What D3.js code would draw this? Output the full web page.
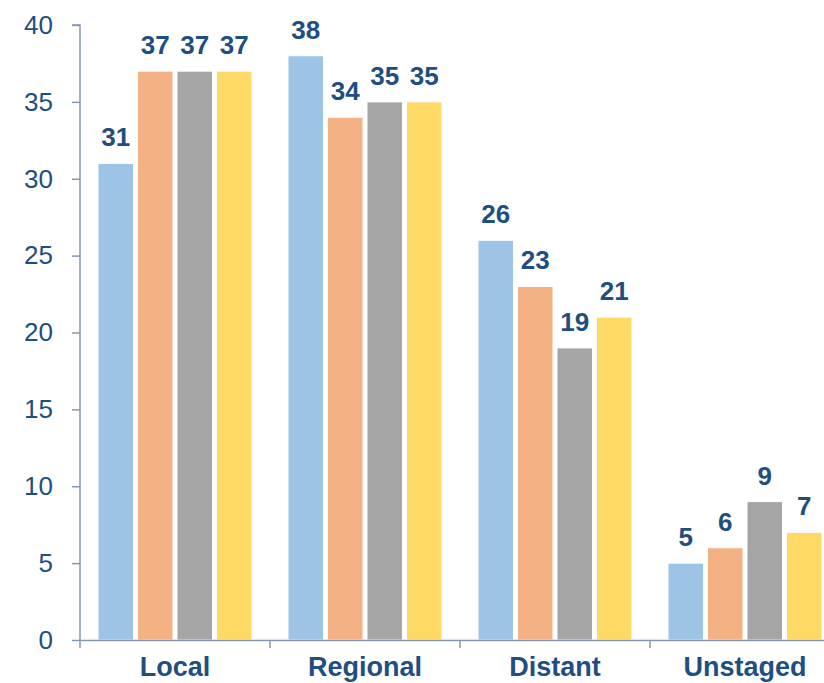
<!DOCTYPE html>
<html>
<head>
<meta charset="utf-8">
<script src="https://cdn.jsdelivr.net/npm/d3@7"></script>
<style>
  body { margin: 0; background: #fff; }
  text { font-family: Arial, "Liberation Sans", sans-serif; }
</style>
</head>
<body>
<div id="chart"></div>
<script>
window.onload = function() {

  // data
  var categories = ['Local', 'Regional', 'Distant', 'Unstaged']
  var series = ['Series 1', 'Series 2', 'Series 3', 'Series 4']
  var series1 = [31, 38, 26, 5]
  var series2 = [37, 34, 23, 6]
  var series3 = [37, 35, 19, 9]
  var series4 = [37, 35, 21, 7]
  var yTicks = [0, 5, 10, 15, 20, 25, 30, 35, 40]

  var values = [series1, series2, series3, series4]
  var colors = ['#9DC3E6', '#F4B183', '#A5A5A5', '#FFD966']

  var w = 824
  var h = 683
  var labelColor = '#1F4E80'
  var axisColor = '#8497B0'

  var svg = d3.select('#chart')
    .append('svg')
    .attr('width', w)
    .attr('height', h)

  var x0 = d3.scaleBand()
    .domain(categories)
    .range([80, 840])

  var x1 = d3.scaleBand()
    .domain(series)
    .range([18, 172])
    .paddingInner(0.1)

  var y = d3.scaleLinear()
    .domain([0, 40])
    .range([640, 25])

  // bars
  var groups = svg.selectAll('.group')
    .data(categories)
    .enter().append('g')
    .attr('class', 'group')
    .attr('transform', function(d) { return 'translate(' + x0(d) + ',0)' })

  var bars = groups.selectAll('.bar')
    .data(function(d, i) {
      return series.map(function(s, j) { return { s: s, j: j, v: values[j][i] } })
    })
    .enter()

  bars.append('rect')
    .attr('class', 'bar')
    .attr('x', function(d) { return x1(d.s) })
    .attr('width', x1.bandwidth())
    .attr('y', function(d) { return y(d.v) })
    .attr('height', function(d) { return y(0) - y(d.v) })
    .style('fill', function(d) { return colors[d.j] })
    .style('stroke', '#fff')
    .style('stroke-width', 1)

  bars.append('text')
    .attr('x', function(d) { return x1(d.s) + x1.bandwidth() / 2 })
    .attr('y', function(d) { return y(d.v) - 17 })
    .attr('text-anchor', 'middle')
    .style('font-size', '26px')
    .style('font-weight', 'bold')
    .style('fill', labelColor)
    .text(function(d) { return d.v })

  // y axis
  var yAxis = svg.append('g')
    .attr('transform', 'translate(80,0)')
    .call(d3.axisLeft(y).tickValues(yTicks).tickSize(8).tickPadding(19))

  yAxis.select('.domain').attr('stroke', axisColor).attr('stroke-width', 1.5)
    .attr('d', 'M-8,' + y(40) + 'H0V' + y(0))
  yAxis.selectAll('.tick line').attr('stroke', axisColor).attr('stroke-width', 1.5)
  yAxis.selectAll('.tick text')
    .style('font-size', '26px')
    .style('fill', labelColor)
    .style('font-family', 'Arial, "Liberation Sans", sans-serif')

  // x axis
  var xAxis = svg.append('g')
    .attr('transform', 'translate(0,' + y(0) + ')')
    .call(d3.axisBottom(x0).tickSize(0).tickPadding(17))

  xAxis.select('.domain').attr('stroke', axisColor).attr('stroke-width', 1.5)
  xAxis.selectAll('.tick text')
    .style('font-size', '27px')
    .style('font-weight', 'bold')
    .style('fill', labelColor)
    .style('font-family', 'Arial, "Liberation Sans", sans-serif')

  // category separators
  xAxis.selectAll('.sep')
    .data(categories)
    .enter().append('line')
    .attr('class', 'sep')
    .attr('x1', function(d) { return x0(d) })
    .attr('x2', function(d) { return x0(d) })
    .attr('y1', 0)
    .attr('y2', 8)
    .attr('stroke', axisColor)
    .attr('stroke-width', 1.5)
}
</script>
</body>
</html>
